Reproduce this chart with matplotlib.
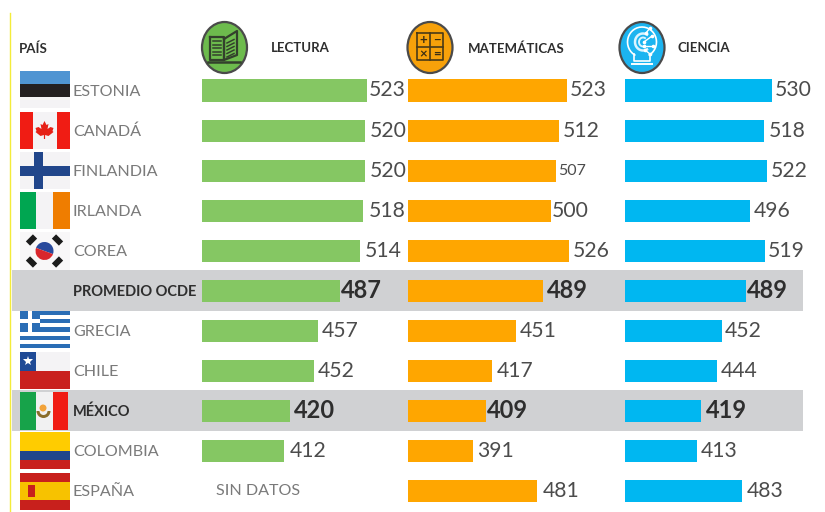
import numpy as np
import matplotlib
matplotlib.use("Agg")
import matplotlib.pyplot as plt
from matplotlib.patches import Rectangle, Circle, Polygon, Wedge, Ellipse

plt.rcParams["font.family"] = ["Lato", "DejaVu Sans"]

W, H = 825, 512

# Data
countries = ["ESTONIA", "CANADÁ", "FINLANDIA", "IRLANDA", "COREA", "PROMEDIO OCDE",
             "GRECIA", "CHILE", "MÉXICO", "COLOMBIA", "ESPAÑA"]
lectura = [523, 520, 520, 518, 514, 487, 457, 452, 420, 412, None]
matematicas = [523, 512, 507, 500, 526, 489, 451, 417, 409, 391, 481]
ciencia = [530, 518, 522, 496, 519, 489, 452, 444, 419, 413, 483]
highlight = ["PROMEDIO OCDE", "MÉXICO"]

GREEN = "#85c763"
ORANGE = "#ffa600"
BLUE = "#00b7f1"
GREY = "#d0d1d3"
DARK = "#2e2e2e"

ROW0, ROW_H = 90.5, 40.05
rows = np.arange(len(countries))

fig = plt.figure(figsize=(W / 100, H / 100), dpi=100)

# background layer in pixel coordinates
bg = fig.add_axes([0, 0, 1, 1])
bg.set_xlim(0, W)
bg.set_ylim(H, 0)
bg.axis("off")

bg.plot([9.5, 9.5], [13, H], color="#f4ec3a", lw=1)
for name in highlight:
    yc = ROW0 + ROW_H * countries.index(name)
    bg.add_patch(Rectangle((12, yc - 20.5), 791, 40.5, color=GREY, lw=0))


def stripes_h(x, y, w, h, cols, fracs=None):
    fracs = fracs or [1 / len(cols)] * len(cols)
    t = y
    for c, f in zip(cols, fracs):
        bg.add_patch(Rectangle((x, t), w, h * f, color=c, lw=0))
        t += h * f


def stripes_v(x, y, w, h, cols, fracs=None):
    fracs = fracs or [1 / len(cols)] * len(cols)
    t = x
    for c, f in zip(cols, fracs):
        bg.add_patch(Rectangle((t, y), w * f, h, color=c, lw=0))
        t += w * f


FX, FW, FH = 19.5, 50, 37
PALE = "#f4f3f5"

# Estonia
stripes_h(FX, 71, FW, FH, ["#4f94d2", "#231f20", PALE], [0.36, 0.35, 0.29])
# Canada
stripes_v(FX, 111.5, FW, FH, ["#f01c14", PALE, "#f01c14"], [0.26, 0.48, 0.26])
leaf = np.array([[0, -9], [2, -5], [4, -6], [3, -1], [6, -3], [9, -2], [8, 1], [9, 2], [4, 6],
                 [0.6, 5], [0.6, 9], [-0.6, 9], [-0.6, 5], [-4, 6], [-9, 2], [-8, 1], [-9, -2],
                 [-6, -3], [-3, -1], [-4, -6], [-2, -5]])
bg.add_patch(Polygon(leaf + [44.5, 130], color="#e62117", lw=0))
# Finland
bg.add_patch(Rectangle((FX, 152), FW, FH, color=PALE, lw=0))
bg.add_patch(Rectangle((FX, 165.5), FW, 10.5, color="#21468b", lw=0))
bg.add_patch(Rectangle((34, 152), 8.5, FH, color="#21468b", lw=0))
# Ireland
stripes_v(FX, 192, FW, FH, ["#00a651", PALE, "#ef7d00"], [0.33, 0.34, 0.33])
# Korea
bg.add_patch(Rectangle((FX, 232), FW, 38, color="#f8f7f8", lw=0))
bg.add_patch(Wedge((44.5, 251), 9, 200, 20, color="#2a4a9c", lw=0))
bg.add_patch(Wedge((44.5, 251), 9, 20, 200, color="#d9262c", lw=0))
for dx, dy, ang in [(-13, -11, -45), (13, -11, 45), (-13, 11, 45), (13, 11, -45)]:
    bg.add_patch(Rectangle((44.5 + dx - 5, 251 + dy - 3), 10, 6, angle=ang,
                           rotation_point="center", color="#1c1c1c", lw=0))
# Greece
bg.add_patch(Rectangle((FX, 311), FW, 37, color="white", lw=0))
for k in range(9):
    if k % 2 == 0:
        bg.add_patch(Rectangle((FX, 311 + k * 4.1), FW, 4.1, color="#2a6db5", lw=0))
bg.add_patch(Rectangle((FX, 311), 20, 20.5, color="#2a6db5", lw=0))
bg.add_patch(Rectangle((FX, 319), 20, 4, color="white", lw=0))
bg.add_patch(Rectangle((27.5, 311), 4, 20.5, color="white", lw=0))
# Chile
stripes_h(FX, 352, FW, FH, [PALE, "#c9211e"], [0.5, 0.5])
bg.add_patch(Rectangle((FX, 352), 16.5, 18.5, color="#1f4a96", lw=0))
bg.plot([27.7], [361], marker="*", ms=7, color="white", mew=0)
# Mexico
stripes_v(20, 392, 48, 38, ["#17a34a", "#f1f1f2", "#f01c14"], [0.33, 0.35, 0.32])
bg.add_patch(Wedge((43.5, 411), 7, 0, 180, color="#8a6d2b", lw=0, width=3))
bg.add_patch(Circle((43, 408), 3.5, color="#f2a33a", lw=0))
# Colombia
stripes_h(FX, 432, FW, FH, ["#ffcc00", "#21468b", "#c8201c"], [0.5, 0.25, 0.25])
# Spain
stripes_h(FX, 472.5, FW, FH, ["#c8201c", "#f7c200", "#c8201c"], [0.26, 0.48, 0.26])
bg.add_patch(Rectangle((27.5, 484.5), 7, 12.5, color="#c8201c", lw=0))

# header
for hx, label in [(19, "PAÍS"), (271, "LECTURA"), (468, "MATEMÁTICAS"), (678, "CIENCIA")]:
    bg.text(hx, 48.5, label, fontsize=9.5, fontweight="bold", color=DARK, va="center")

# icons
EDGE = "#4a4a4a"
bg.add_patch(Ellipse((224.5, 47.5), 45, 51, fc="#6dbb4d", ec=EDGE, lw=1.6))
bg.add_patch(Ellipse((430, 47.5), 45, 51, fc="#f7a10a", ec=EDGE, lw=1.6))
bg.add_patch(Ellipse((642, 47.5), 45, 51, fc="#1cb4f0", ec=EDGE, lw=1.6))

# book
bg.plot([210, 210, 224, 224, 210], [37, 60, 60, 37, 37], color="#33402c", lw=1.6)
bg.plot([224, 224, 237, 237, 224], [39, 60, 55, 31, 39], color="#33402c", lw=1.6)
bg.plot([208, 240], [61.5, 61.5], color="#33402c", lw=1.8)
for k in range(5):
    bg.plot([213, 221], [41 + 3.5 * k] * 2, color="#33402c", lw=1.1)
    bg.plot([227, 234], [43 + 3.5 * k, 39.5 + 3.5 * k], color="#33402c", lw=1.1)

# math grid
bg.plot([417, 443, 443, 417, 417], [33, 33, 60, 60, 33], color="#4a3a18", lw=1.2)
bg.plot([430, 430], [33, 60], color="#4a3a18", lw=1.2)
bg.plot([417, 443], [46.5, 46.5], color="#4a3a18", lw=1.2)
for sx, sy, s in [(423.5, 40, "+"), (436.5, 40, "−"), (423.5, 54, "×"), (436.5, 54, "=")]:
    bg.text(sx, sy, s, fontsize=9.5, fontweight="bold", color="#3b2f14", ha="center", va="center")

# science bulb
t = np.radians(np.arange(-60, 241, 10))
bg.plot(642 + 14.5 * np.cos(t), 42 - 15 * np.sin(t), color="white", lw=1.2)
t2 = np.radians(np.arange(60, 301, 10))
bg.plot(643 + 8 * np.cos(t2), 42 - 8.5 * np.sin(t2), color="#d9f4ff", lw=1.8)
bg.plot(643 + 4 * np.cos(t2), 42 - 4.5 * np.sin(t2), color="#d9f4ff", lw=1.4)
bg.plot([634, 634, 650, 650], [54, 61, 61, 54], color="white", lw=1.2)
bg.plot([632, 652], [63.5, 63.5], color="white", lw=1.4)
for px, py, qx, qy in [(644, 42, 652, 36), (644, 46, 653, 46), (646, 33, 650, 28), (645, 50, 650, 54)]:
    bg.plot([px, qx], [py, qy], color="white", lw=1, marker="o", ms=1.6)

# country labels
for i, name in enumerate(countries):
    yc = ROW0 + ROW_H * i
    if name in highlight:
        bg.text(73, yc + 1, name, fontsize=10.5, fontweight="bold", color=DARK, va="center")
    else:
        bg.text(73, yc + 1, name, fontsize=11.6, color="#7a7a7a", va="center")


# bar panels: each one has its own scale
def panel(left_px, base, px_per_pt, vals, color, gaps):
    right_px = 815
    ax = fig.add_axes([left_px / W, 0, (right_px - left_px) / W, 1])
    ax.patch.set_alpha(0)
    ax.set_xlim(base, base + (right_px - left_px) / px_per_pt)
    ax.set_ylim((H - ROW0) / ROW_H, -ROW0 / ROW_H)
    ax.axis("off")
    for i, v in enumerate(vals):
        if v is None:
            continue
        ax.barh(rows[i], v - base, left=base, height=0.55, color=color, lw=0)
        bold = countries[i] in highlight
        size = 17 if bold else 15.2
        if v == 507 and color == ORANGE:
            size = 11.5
        ax.annotate(str(v), (v, rows[i]), xytext=(gaps[i] * 0.72, 0), textcoords="offset points",
                    fontsize=size, fontweight="bold" if bold else "normal",
                    color=DARK if bold else "#4c4c4c", va="center", ha="left")
    return ax


ax1 = panel(202, 302.4, 0.748, lectura, GREEN, [2, 5, 5, 5, 4, 1, 4, 4, 4, 6, 0])
ax2 = panel(408, 299, 0.711, matematicas, ORANGE, [3, 3, 2, 1, 3, 4, 4, 5, 1, 4, 5])
ax3 = panel(625, 300.7, 0.641, ciencia, BLUE, [3, 4, 4, 4, 3, 1.5, 3, 4, 5, 4, 5])

ax1.annotate("SIN DATOS", (302.4, rows[-1]), xytext=(14 * 0.72, 0), textcoords="offset points",
             fontsize=11.6, color="#7a7a7a", va="center", ha="left")

fig.savefig("out.png", dpi=100, facecolor="white")
